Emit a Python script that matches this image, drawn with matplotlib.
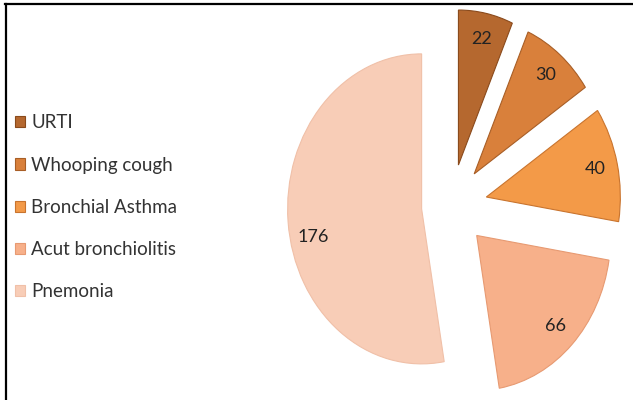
import math
import matplotlib.pyplot as plt
from matplotlib.lines import Line2D

categories = ["URTI", "Whooping cough", "Bronchial Asthma", "Acut bronchiolitis", "Pnemonia"]
values = [22, 30, 40, 66, 176]
colors = ["#b5682f", "#d9803b", "#f39a48", "#f7b08a", "#f8cdb7"]
edges = ["#8a4a1c", "#a85e26", "#c9742e", "#e79a72", "#f0c0a8"]
explode = [0.27, 0.27, 0.27, 0.27, 0.22]


def main():
    fig = plt.figure(figsize=(6.33, 4.0), dpi=100)
    ax = fig.add_axes([0, 0, 1, 1])

    wedges, texts, autotexts = ax.pie(
        values, colors=colors, explode=explode, startangle=90, counterclock=False,
        autopct=lambda p: "%d" % round(p * sum(values) / 100), pctdistance=0.83,
        wedgeprops=dict(linewidth=0.8), textprops=dict(fontsize=13, color="#222222", family="Lato"))
    for w, ec in zip(wedges, edges):
        w.set_edgecolor(ec)

    # big slice label sits a bit below its bisector in the reference
    w = wedges[-1]
    ang = math.radians((w.theta1 + w.theta2) / 2 + 8)
    autotexts[-1].set_position((w.center[0] + 0.83 * math.cos(ang), w.center[1] + 0.83 * math.sin(ang)))

    # pie is stretched vertically in the reference
    cx, cy = 451, 206
    rx, ry = 134, 155
    ax.set_aspect("auto")
    ax.set_xlim(-cx / rx, (633 - cx) / rx)
    ax.set_ylim((cy - 400) / ry, cy / ry)
    ax.axis("off")

    leg = fig.legend(wedges, categories, loc="upper left", bbox_to_anchor=(0.0115, 0.7325),
                     frameon=False, borderaxespad=0, borderpad=0.4, labelspacing=1.34,
                     handlelength=0.53, handleheight=0.53, handletextpad=0.35,
                     prop=dict(family="Lato", size=13.5))
    for t in leg.get_texts():
        t.set_color("#333333")

    # border (only top and left visible in the crop)
    fig.add_artist(Line2D([5 / 633, 1], [396 / 400, 396 / 400], color="black", linewidth=1.6,
                          transform=fig.transFigure))
    fig.add_artist(Line2D([6 / 633, 6 / 633], [0, 396 / 400], color="black", linewidth=1.6,
                          transform=fig.transFigure))

    fig.savefig("out.png", dpi=100)


if __name__ == "__main__":
    main()
